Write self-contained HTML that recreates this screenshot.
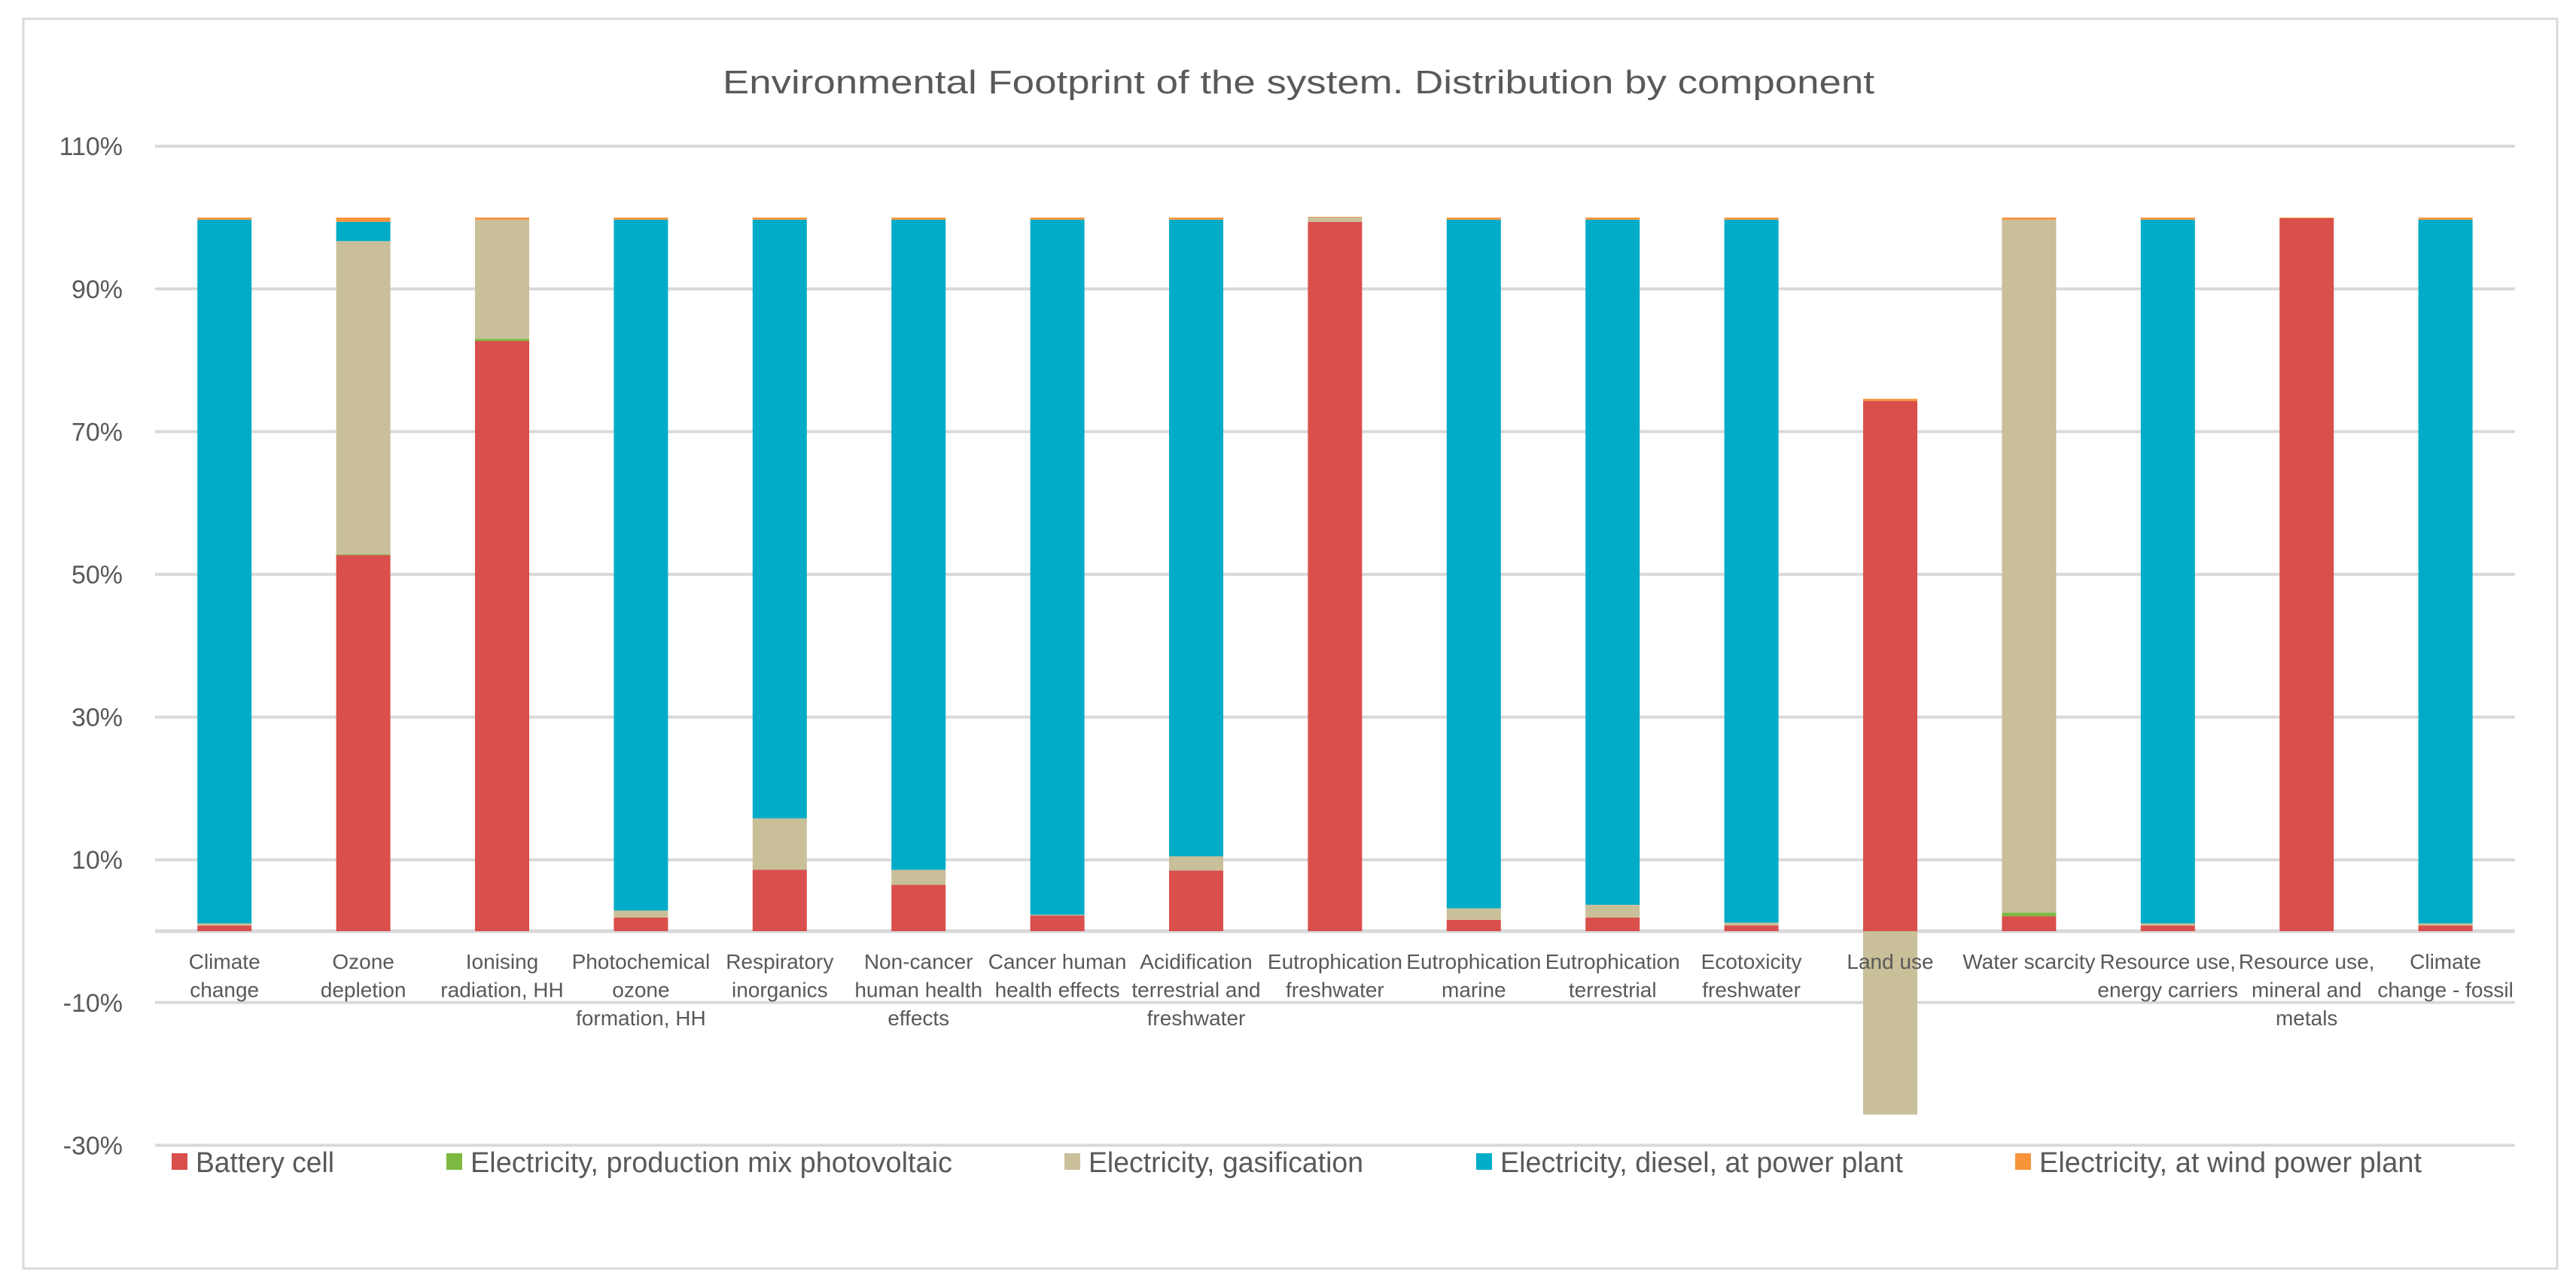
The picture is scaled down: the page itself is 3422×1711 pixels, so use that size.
<!DOCTYPE html>
<html><head><meta charset="utf-8"><style>
html,body{margin:0;padding:0;background:#fff;}
svg{display:block;font-family:"Liberation Sans",sans-serif;}
</style></head><body>
<svg id="chart" width="3422" height="1711" viewBox="0 0 3422 1711" xmlns="http://www.w3.org/2000/svg">
<rect x="31" y="25" width="3366" height="1660" fill="#fff" stroke="#d9d9d9" stroke-width="3"/>
<text x="960" y="124" font-size="44" fill="#595959" textLength="1530" lengthAdjust="spacingAndGlyphs">Environmental Footprint of the system. Distribution by component</text>
<g id="grid"></g><g id="bars"></g><g id="xlabels"></g><g id="legend"></g>
</svg>
<script>
const categories = [["Climate","change"],["Ozone","depletion"],["Ionising","radiation, HH"],["Photochemical","ozone","formation, HH"],["Respiratory","inorganics"],["Non-cancer","human health","effects"],["Cancer human","health effects"],["Acidification","terrestrial and","freshwater"],["Eutrophication","freshwater"],["Eutrophication","marine"],["Eutrophication","terrestrial"],["Ecotoxicity","freshwater"],["Land use"],["Water scarcity"],["Resource use,","energy carriers"],["Resource use,","mineral and","metals"],["Climate","change - fossil"]];
const seriesNames = ["Battery cell","Electricity, production mix photovoltaic","Electricity, gasification","Electricity, diesel, at power plant","Electricity, at wind power plant"];
const battery = [0.8,52.7,82.7,1.9,8.6,6.5,2.2,8.5,99.4,1.6,1.9,0.8,74.3,2.1,0.8,99.9,0.8];
const photovoltaic = [0,0.1,0.3,0,0,0,0,0,0,0,0,0,0,0.5,0,0,0];
const gasification = [0.3,43.9,16.7,1.0,7.2,2.1,0.1,2.0,0.6,1.6,1.8,0.4,-25.7,97.1,0.3,0,0.3];
const diesel = [98.6,2.7,0,96.8,83.9,91.1,97.4,89.2,0,96.5,96.0,98.5,0,0,98.6,0,98.6];
const wind = [0.3,0.6,0.3,0.3,0.3,0.3,0.3,0.3,0.1,0.3,0.3,0.3,0.3,0.3,0.3,0.1,0.3];
const yTicks = [-30,-10,10,30,50,70,90,110];

const colors = ["#d94f4c","#7cba42","#c9bf99","#00acc8","#f7943a"];
const series = [battery, photovoltaic, gasification, diesel, wind];
const NS = "http://www.w3.org/2000/svg";
const plotL = 206, catW = 184.4, barW = 72;
const y0 = 1237, pxPer = 9.48;
function yScale(v){ return y0 - v*pxPer; }
function xScale(i){ return plotL + i*catW + (catW-barW)/2; }
function mk(tag, attrs, parent){ const e=document.createElementNS(NS,tag); for(const k in attrs) e.setAttribute(k,attrs[k]); parent.appendChild(e); return e; }
const grid=document.getElementById('grid'), bars=document.getElementById('bars'), xl=document.getElementById('xlabels'), lg=document.getElementById('legend');
const plotR = plotL + categories.length*catW;
yTicks.forEach(t=>{
  const ln=mk('line',{x1:plotL,x2:plotR,y1:yScale(t),y2:yScale(t),stroke:'#d9d9d9','stroke-width':4},grid);
  
  
  const tx=mk('text',{x:163,y:yScale(t)+12,'text-anchor':'end','font-size':34,fill:'#595959'},grid);
  
  
  tx.textContent=t+'%';
});
const zl=mk('line',{x1:plotL,x2:plotR,y1:y0,y2:y0,stroke:'#d9d9d9','stroke-width':5},grid);


categories.forEach((c,i)=>{
  let pos=0, neg=0;
  series.forEach((s,k)=>{
    const v=s[i]; if(!v) return;
    let top,h;
    if(v>=0){ top=yScale(pos+v); h=v*pxPer; pos+=v; } else { top=yScale(neg); h=-v*pxPer; neg+=v; }
    const r=mk('rect',{x:xScale(i),y:top,width:barW,height:h,fill:colors[k]},bars);
    
    
  });
  c.forEach((line,j)=>{
    const t=mk('text',{x:xScale(i)+barW/2,y:1287+j*37.6,'text-anchor':'middle','font-size':28,fill:'#595959'},xl);
    
    
    t.textContent=line;
  });
});
const legX=[228,593,1414,1961,2677], legW=[184,640,365,535,508];
seriesNames.forEach((n,k)=>{
  const r=mk('rect',{x:legX[k],y:1532,width:21,height:22,fill:colors[k]},lg);
  
  
  const t=mk('text',{x:legX[k]+32,y:1557,'font-size':38,fill:'#595959',textLength:legW[k],lengthAdjust:'spacingAndGlyphs'},lg);
  
  
  t.textContent=n;
});
</script>
</body></html>
